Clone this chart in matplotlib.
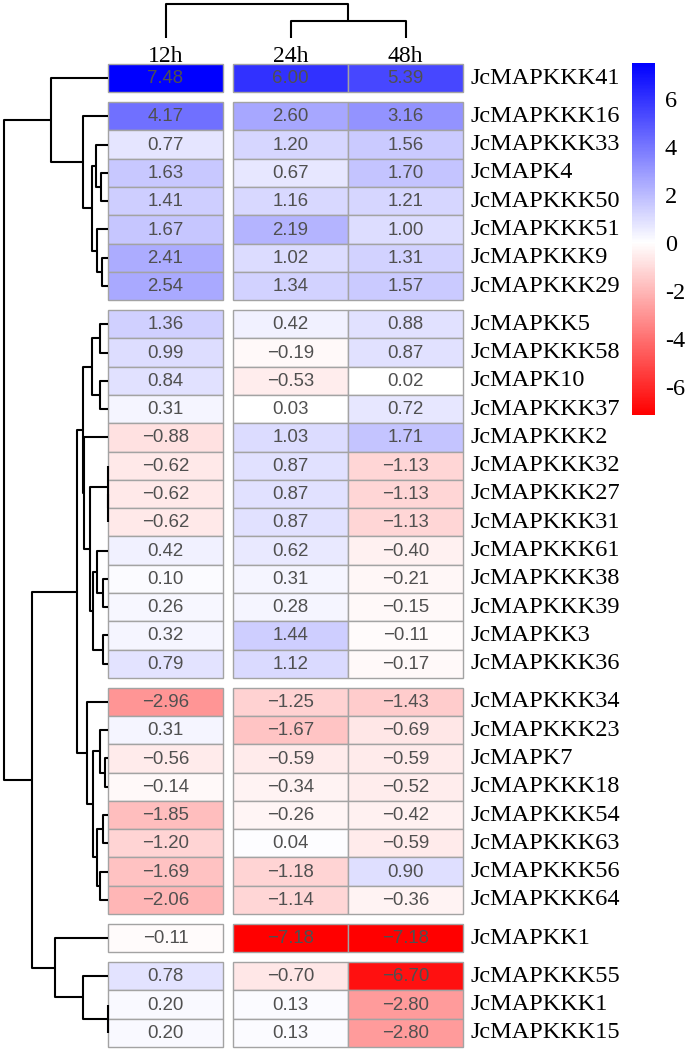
import numpy as np
import matplotlib.pyplot as plt
import matplotlib.cm as cm
from matplotlib.colors import LinearSegmentedColormap, Normalize
from matplotlib.patches import Rectangle

plt.rcParams['font.family'] = 'Liberation Serif'
plt.rcParams['axes.unicode_minus'] = False

# genes in the order shown (top -> bottom)
genes = ['JcMAPKKK41', 'JcMAPKKK16', 'JcMAPKKK33', 'JcMAPK4', 'JcMAPKKK50',
         'JcMAPKKK51', 'JcMAPKKK9', 'JcMAPKKK29', 'JcMAPKK5', 'JcMAPKKK58',
         'JcMAPK10', 'JcMAPKKK37', 'JcMAPKKK2', 'JcMAPKKK32', 'JcMAPKKK27',
         'JcMAPKKK31', 'JcMAPKKK61', 'JcMAPKKK38', 'JcMAPKKK39', 'JcMAPKK3',
         'JcMAPKKK36', 'JcMAPKKK34', 'JcMAPKKK23', 'JcMAPK7', 'JcMAPKKK18',
         'JcMAPKKK54', 'JcMAPKKK63', 'JcMAPKKK56', 'JcMAPKKK64', 'JcMAPKK1',
         'JcMAPKKK55', 'JcMAPKKK1', 'JcMAPKKK15']
times = ['12h', '24h', '48h']

v12h = [7.48, 4.17, 0.77, 1.63, 1.41, 1.67, 2.41, 2.54, 1.36, 0.99, 0.84, 0.31,
        -0.88, -0.62, -0.62, -0.62, 0.42, 0.10, 0.26, 0.32, 0.79, -2.96, 0.31,
        -0.56, -0.14, -1.85, -1.20, -1.69, -2.06, -0.11, 0.78, 0.20, 0.20]
v24h = [6.00, 2.60, 1.20, 0.67, 1.16, 2.19, 1.02, 1.34, 0.42, -0.19, -0.53, 0.03,
        1.03, 0.87, 0.87, 0.87, 0.62, 0.31, 0.28, 1.44, 1.12, -1.25, -1.67,
        -0.59, -0.34, -0.26, 0.04, -1.18, -1.14, -7.18, -0.70, 0.13, 0.13]
v48h = [5.39, 3.16, 1.56, 1.70, 1.21, 1.00, 1.31, 1.57, 0.88, 0.87, 0.02, 0.72,
        1.71, -1.13, -1.13, -1.13, -0.40, -0.21, -0.15, -0.11, -0.17, -1.43, -0.69,
        -0.59, -0.52, -0.42, -0.59, 0.90, -0.36, -7.18, -6.70, -2.80, -2.80]

# cluster cuts (number of rows / columns in each block)
row_groups = [1, 7, 13, 8, 1, 3]
col_groups = [1, 2]

# dendrogram merges, linkage style: (child a, child b, height); new node id = n + k
row_merges = [(31, 32, 0), (30, 33, 25), (29, 34, 53),
              (6, 7, 6), (5, 36, 11), (3, 4, 7), (2, 38, 12), (39, 37, 16),
              (1, 40, 25), (0, 41, 57),
              (8, 9, 8), (10, 11, 8), (43, 44, 16),
              (14, 15, 0), (13, 46, 0), (17, 18, 5), (16, 48, 11), (19, 20, 5),
              (49, 50, 15), (47, 51, 18), (12, 52, 24), (45, 53, 25),
              (23, 24, 3), (22, 55, 8), (25, 26, 5), (27, 28, 8), (57, 58, 11),
              (56, 59, 15), (21, 60, 21), (54, 61, 31), (62, 35, 76), (42, 63, 104)]
col_merges = [(1, 2, 17), (0, 3, 34)]

data = np.array([v12h, v24h, v48h]).T

# blue (high) - white (0) - red (low)
vmin, vmax = data.min(), data.max()
mid = -vmin / (vmax - vmin)
cmap = LinearSegmentedColormap.from_list('rwb', [(0, '#ff0000'), (mid, '#ffffff'), (1, '#0000ff')])
norm = Normalize(vmin=vmin, vmax=vmax)

W, H = 685, 1055
fig = plt.figure(figsize=(W / 100, H / 100), dpi=100)


def px_axes(x0, y0, x1, y1):
    return fig.add_axes([x0 / W, 1 - y1 / H, (x1 - x0) / W, (y1 - y0) / H])


# cell positions with gaps between clusters
row_gap = 0.35
col_gap = 10 / 115
row_pos = np.arange(len(genes)) + row_gap * np.repeat(np.arange(len(row_groups)), row_groups)
col_pos = np.arange(len(times)) + col_gap * np.repeat(np.arange(len(col_groups)), col_groups)
ylim = (row_pos[-1] + 1, 0)
xlim = (0, col_pos[-1] + 1)

# heatmap
ax = px_axes(108, 64, 463, 1047)
for i in range(len(genes)):
    for j in range(len(times)):
        v = data[i, j]
        ax.add_patch(Rectangle((col_pos[j], row_pos[i]), 1, 1, facecolor=cmap(norm(v)),
                               edgecolor='#a3a3a3', lw=1.0, clip_on=False))
        ax.text(col_pos[j] + 0.5, row_pos[i] + 0.52, f'{v:.2f}'.replace('-', '\u2212'),
                ha='center', va='center', fontsize=13.4, color='#505050',
                family='Liberation Sans')
    ax.text(xlim[1] + 7 / 115, row_pos[i] + 0.5, genes[i], ha='left', va='center',
            fontsize=17.5)
for j in range(len(times)):
    ax.text(col_pos[j] + 0.5, -0.07, times[j], ha='center', va='baseline', fontsize=17)
ax.set_xlim(xlim)
ax.set_ylim(ylim)
ax.axis('off')


def dendro_segments(merges, leaf_pos):
    pos = list(leaf_pos)
    hgt = [0] * len(leaf_pos)
    segs = []
    for a, b, h in merges:
        segs.append(([hgt[a], h, h, hgt[b]], [pos[a], pos[a], pos[b], pos[b]]))
        pos.append((pos[a] + pos[b]) / 2)
        hgt.append(h)
    return segs


# row dendrogram (left)
axr = px_axes(0, 64, 108, 1047)
for hs, ps in dendro_segments(row_merges, row_pos + 0.5):
    axr.plot(hs, ps, color='black', lw=1.5, solid_capstyle='butt', clip_on=False)
axr.set_xlim(108, 0)
axr.set_ylim(ylim)
axr.axis('off')

# column dendrogram (top)
axc = px_axes(108, 2, 463, 38)
for hs, ps in dendro_segments(col_merges, col_pos + 0.5):
    axc.plot(ps, hs, color='black', lw=1.5, solid_capstyle='butt', clip_on=False)
axc.set_xlim(xlim)
axc.set_ylim(0, 36)
axc.axis('off')

# colour bar
cax = px_axes(632, 63, 655, 415)
cb = fig.colorbar(cm.ScalarMappable(norm=norm, cmap=cmap), cax=cax)
cb.set_ticks([-6, -4, -2, 0, 2, 4, 6])
cb.ax.tick_params(length=0, pad=7, labelsize=17.5)
cb.outline.set_visible(False)

plt.savefig('out.png', dpi=100)
